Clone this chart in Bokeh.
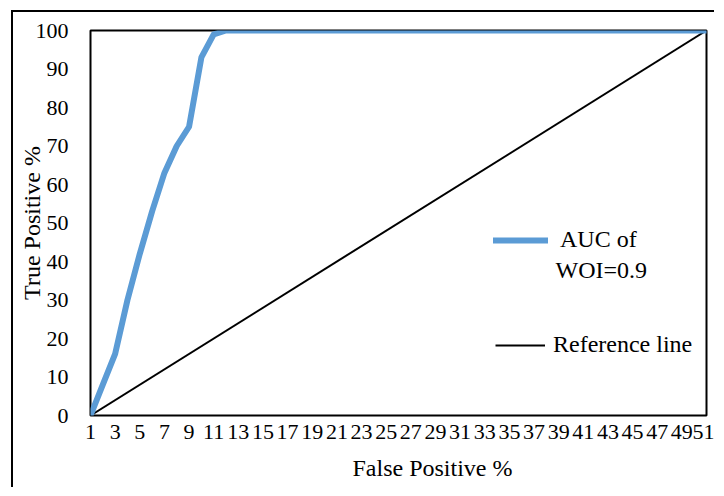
from bokeh.plotting import figure
from bokeh.models import Range1d, FixedTicker, Legend, LegendItem, Label, Title
from bokeh.embed import file_html
from bokeh.resources import INLINE

# ---- data ----
fp_categories = list(range(1, 52))
auc_woi = [0, 8, 16, 30, 42, 53, 63, 70, 75, 93, 99,
           100, 100, 100, 100, 100, 100, 100, 100, 100, 100,
           100, 100, 100, 100, 100, 100, 100, 100, 100, 100,
           100, 100, 100, 100, 100, 100, 100, 100, 100, 100,
           100, 100, 100, 100, 100, 100, 100, 100, 100, 100]
ref_x = [1, 51]
ref_y = [0, 100]
x_tick_values = [1, 3, 5, 7, 9, 11, 13, 15, 17, 19, 21, 23, 25, 27, 29,
                 31, 33, 35, 37, 39, 41, 43, 45, 47, 49, 51]
y_tick_values = [0, 10, 20, 30, 40, 50, 60, 70, 80, 90, 100]
x_title = "False Positive %"
y_title = "True Positive %"

FONT = "Liberation Serif"
TICK_FS = "22px"
FS = "24px"

p = figure(width=703, height=477, output_backend="svg", toolbar_location=None,
           x_range=Range1d(1, 51), y_range=Range1d(0, 100),
           min_border_left=77, min_border_right=10, min_border_top=18, min_border_bottom=74)
p.styles = {"border-left": "2px solid #000", "border-top": "2px solid #000",
            "margin-left": "11px", "margin-top": "10px"}

p.outline_line_color = "black"
p.outline_line_width = 2
p.xgrid.visible = False
p.ygrid.visible = False

for ax in (p.xaxis[0], p.yaxis[0]):
    ax.axis_line_color = None
    ax.major_tick_line_color = None
    ax.minor_tick_line_color = None
    ax.major_tick_out = 0
    ax.major_tick_in = 0
    ax.minor_tick_out = 0
    ax.major_label_text_font = FONT
    ax.major_label_text_font_size = TICK_FS
    ax.major_label_text_color = "black"
    ax.axis_label_text_font = FONT
    ax.axis_label_text_font_size = FS
    ax.axis_label_text_font_style = "normal"
    ax.axis_label_text_color = "black"

p.xaxis.ticker = FixedTicker(ticks=x_tick_values)
p.yaxis.ticker = FixedTicker(ticks=y_tick_values)
p.yaxis.axis_label = y_title
p.yaxis.major_label_standoff = 22
p.xaxis.major_label_standoff = 9
p.yaxis.axis_label_standoff = -12

# x-axis title, offset to the right like the original
p.add_layout(Title(text=x_title, align="left", offset=262, standoff=4,
                   padding=(0, 0, 9, 0),
                   text_font=FONT, text_font_size=FS, text_font_style="normal",
                   text_color="black"), "below")

r_ref = p.line(ref_x, ref_y, line_color="black", line_width=2)
r_auc = p.line(fp_categories, auc_woi, line_color="#5B9BD5", line_width=6,
               line_join="round", line_cap="round")

def make_legend(item, loc, gw, standoff):
    lg = Legend(items=[item], location=loc, padding=0, margin=0, spacing=0,
                glyph_width=gw, glyph_height=24, label_height=24,
                label_standoff=standoff, label_text_font=FONT,
                label_text_font_size=FS, label_text_color="black",
                background_fill_alpha=0, border_line_color=None)
    p.add_layout(lg, "center")

make_legend(LegendItem(label="AUC of", renderers=[r_auc]), (403, 162), 55, 12)
make_legend(LegendItem(label="Reference line", renderers=[r_ref]), (405, 57), 50, 8)

p.add_layout(Label(x=465, y=146, x_units="screen", y_units="screen", text="WOI=0.9",
                   text_font=FONT, text_font_size=FS, text_color="black",
                   text_baseline="middle"))

open("out.html", "w").write(file_html(p, INLINE))
